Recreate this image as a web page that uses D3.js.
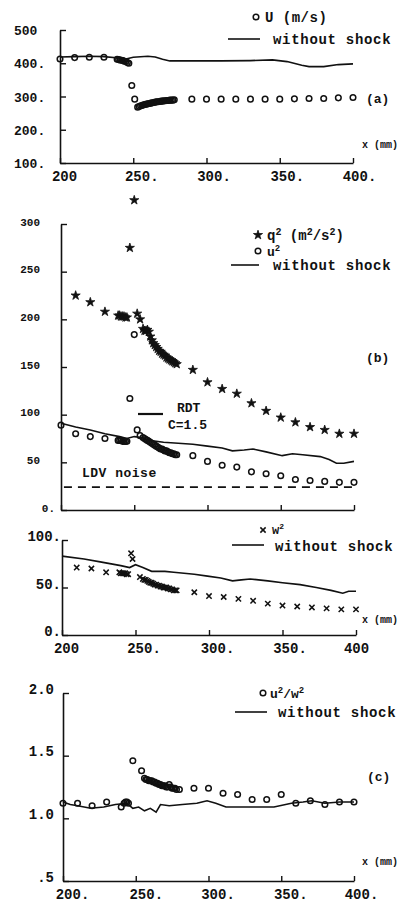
<!DOCTYPE html>
<html><head><meta charset="utf-8">
<script src="https://cdn.jsdelivr.net/npm/d3@7"></script>
<style>
html,body{margin:0;padding:0;background:#fff;}
svg{display:block;}
text{font-family:"Liberation Mono","DejaVu Sans Mono",monospace;font-weight:bold;fill:#111;}
</style></head><body>
<svg id="chart" width="399" height="902"></svg>
<script>
// ---------- DATA ----------
const xTicks = [200, 250, 300, 350, 400];

// panel (a): mean velocity U (m/s)
const aYTicks = [100, 200, 300, 400, 500];
const aYLabels = ["100.", "200.", "300.", "400.", "500"];
const aXLabels = ["200", "250.", "300.", "350.", "400."];
const uPoints = [[200,413],[210,417],[220,418],[230,418],[239,412],[240,411],[241,410],[242,409],[243,408],[244,406],[245,405],[246,402],[247,400],[249,333],[251,292],
 [253,268],[254,270],[255,272],[256,273],[257,275],[258,276],[259,277],[260,278],[261,279],[262,280],[263,281],[264,282],[265,283],[266,284],[267,284],[268,285],[269,286],[270,286],[271,287],[272,287],[273,288],[274,288],[275,289],[276,289],[277,289],[278,290],
 [290,292],[300,292],[310,292],[320,292],[330,292],[340,292],[350,292],[360,293],[370,294],[380,294],[390,296],[400,297]];
const uNoShock = [[200,419],[210,420],[220,421],[230,420],[240,416],[245,413],[250,418],[260,421],[265,419],[270,412],[275,407],[290,407],[310,407],[330,408],[345,410],[355,405],[365,394],[370,390],[380,390],[390,396],[400,398]];

// panel (b): q^2 and u^2 (m^2/s^2)
const bYTicks = [0, 50, 100, 150, 200, 250, 300];
const bYLabels = ["0.", "50", "100", "150", "200", "250", "300"];
const q2Points = [[210,225],[220,218],[230,208],[239,204],[240,204],[241,203],[242,203],[243,203],[244,202],[245,202],[247,275],[250,325],[252,206],[254,200],[256,190],[257,188],[258,188],[259,189],[260,187],[261,182],[262,178],[263,175],[264,173],[265,171],[266,169],[267,167],[268,166],[269,164],[270,163],[271,162],[272,160],[273,159],[274,158],[275,157],[276,156],[277,155],[278,154],[279,153],[290,147],[300,134],[310,127],[320,122],[330,112],[340,104],[350,97],[360,92],[370,87],[380,84],[390,80],[400,80]];
const u2Points = [[200,89],[210,80],[220,77],[230,75],[239,73],[240,73],[241,73],[242,72],[243,72],[244,72],[245,72],[247,117],[250,184],[252,84],[254,78],[256,76],[257,75],[258,74],[259,73],[260,72],[261,71],[262,70],[263,69],[264,68],[265,67],[266,66],[267,65],[268,64],[269,64],[270,63],[271,62],[272,62],[273,61],[274,60],[275,60],[276,59],[277,59],[278,58],[279,58],[290,57],[300,51],[310,47],[320,45],[330,40],[340,38],[350,36],[360,32],[370,31],[380,30],[390,29],[400,29]];
const u2NoShock = [[200,91],[210,87],[220,84],[230,80],[240,77],[245,75],[250,77],[255,76],[260,73],[270,71],[280,70],[290,69],[300,67],[310,65],[317,62],[325,63],[331,64],[340,61],[351,57],[358,59],[365,58],[377,56],[383,53],[388,49],[393,49],[400,51]];
const ldvNoise = [[202,24],[400,24]];

// panel w^2
const wYTicks = [0, 50, 100];
const wYLabels = ["0.", "50.", "100."];
const wXLabels = ["200", "250.", "300.", "350.", "400"];
const w2Points = [[210,71],[220,70],[230,66],[239,66],[240,65],[241,65],[242,65],[243,65],[244,64],[245,64],[247,86],[248,80],[253,61],[255,59],[256,58],[257,58],[258,57],[259,56],[260,55],[261,55],[262,54],[263,53],[264,53],[265,52],[266,52],[267,51],[268,51],[269,50],[270,50],[271,50],[272,49],[273,49],[274,48],[275,48],[276,47],[277,47],[278,47],[290,45],[300,41],[310,40],[320,38],[330,36],[340,33],[350,31],[360,30],[370,29],[380,28],[390,27],[400,27]];
const w2NoShock = [[200,83],[215,80],[226,77],[240,73],[246,71],[250,74],[255,71],[261,67],[270,67],[276,66],[290,64],[299,62],[308,60],[316,57],[322,58],[328,59],[340,57],[350,55],[362,53],[373,50],[383,47],[391,44],[395,46],[400,46]];

// panel (c): u^2/w^2
const cYTicks = [0.5, 1.0, 1.5, 2.0];
const cYLabels = [".5", "1.0", "1.5", "2.0"];
const cXLabels = ["200.", "250.", "300.", "350.", "400."];
const ratioPoints = [[200,1.12],[210,1.12],[220,1.10],[230,1.13],[240,1.09],[242,1.12],[243,1.13],[244,1.13],[245,1.12],[248,1.46],[254,1.38],[256,1.32],[257,1.31],[258,1.31],[259,1.30],[260,1.30],[261,1.30],[262,1.29],[263,1.29],[264,1.28],[265,1.28],[266,1.27],[267,1.27],[268,1.26],[269,1.26],[270,1.26],[271,1.25],[272,1.25],[273,1.27],[274,1.25],[275,1.24],[276,1.24],[277,1.24],[278,1.23],[280,1.23],[290,1.24],[300,1.24],[310,1.20],[320,1.19],[330,1.15],[340,1.15],[350,1.19],[360,1.12],[370,1.14],[380,1.11],[390,1.13],[400,1.13]];
const ratioNoShock = [[200,1.13],[205,1.11],[210,1.10],[219,1.08],[228,1.09],[236,1.11],[244,1.12],[248,1.08],[252,1.09],[256,1.06],[260,1.08],[264,1.05],[267,1.11],[273,1.10],[282,1.11],[292,1.12],[299,1.14],[305,1.12],[312,1.09],[322,1.09],[332,1.09],[345,1.09],[357,1.12],[365,1.13],[371,1.14],[380,1.12],[390,1.13],[400,1.13]];

// ---------- DRAWING ----------
const svg = d3.select("#chart");
const INK = "#111";

function makePanel(cfg) {
  const x = d3.scaleLinear().domain([200, 400]).range(cfg.xr);
  const y = d3.scaleLinear().domain(cfg.yd).range(cfg.yr);
  const g = svg.append("g");

  const gx = g.append("g").attr("transform", `translate(0,${cfg.yr[0]})`)
    .call(d3.axisBottom(x).tickValues(xTicks).tickSize(-5).tickSizeOuter(0)
      .tickFormat((d, i) => cfg.xLabels ? cfg.xLabels[i] : ""));
  gx.select(".domain").attr("stroke", INK).attr("stroke-width", 1.6);
  gx.selectAll(".tick line").attr("stroke", INK).attr("stroke-width", 1.4);
  gx.selectAll(".tick text")
    .attr("y", cfg.xLabelY - cfg.yr[0]).attr("dy", 0)
    .attr("dx", (d, i) => cfg.xLabelDx[i])
    .style("font-size", cfg.xFont + "px").attr("fill", INK);

  const gy = g.append("g").attr("transform", `translate(${cfg.xr[0]},0)`)
    .call(d3.axisLeft(y).tickValues(cfg.yTicks).tickSize(-6).tickSizeOuter(0)
      .tickFormat((d, i) => cfg.yLabels[i]));
  gy.select(".domain").attr("stroke", INK).attr("stroke-width", 1.6);
  gy.selectAll(".tick line").attr("stroke", INK).attr("stroke-width", 1.4);
  gy.selectAll(".tick text")
    .attr("text-anchor", cfg.yAnchor)
    .attr("x", (d, i) => cfg.yLabelX + (cfg.yLabelXAdj ? cfg.yLabelXAdj[i] : 0))
    .attr("dy", cfg.yDy)
    .style("font-size", cfg.yFont + "px").attr("fill", INK);

  return { x, y, g };
}

function drawLine(p, data, dash) {
  const line = d3.line().x(d => p.x(d[0])).y(d => p.y(d[1]));
  p.g.append("path").datum(data).attr("d", line)
    .attr("fill", "none").attr("stroke", INK).attr("stroke-width", 1.6)
    .attr("stroke-dasharray", dash || null);
}
function drawCircles(p, data) {
  p.g.append("g").selectAll("circle").data(data).join("circle")
    .attr("cx", d => p.x(d[0])).attr("cy", d => p.y(d[1])).attr("r", 2.8)
    .attr("fill", "none").attr("stroke", INK).attr("stroke-width", 1.5);
}
function drawStars(p, data) {
  p.g.append("g").selectAll("path").data(data).join("path")
    .attr("transform", d => `translate(${p.x(d[0])},${p.y(d[1])})`)
    .attr("d", d3.symbol(d3.symbolStar, 26)).attr("fill", INK)
    .attr("stroke", INK).attr("stroke-width", 0.8);
}
function drawCrosses(p, data) {
  p.g.append("g").selectAll("path").data(data).join("path")
    .attr("transform", d => `translate(${p.x(d[0])},${p.y(d[1])})`)
    .attr("d", d3.symbol(d3.symbolTimes, 20)).attr("fill", "none")
    .attr("stroke", INK).attr("stroke-width", 1.5);
}
function text(x, y, s, size, ls) {
  return svg.append("text").attr("x", x).attr("y", y)
    .style("font-size", size + "px").style("letter-spacing", (ls || 0) + "px").text(s);
}
function supText(x, y, parts, size) {
  const t = svg.append("text").attr("x", x).attr("y", y).style("font-size", size + "px");
  parts.forEach(pt => {
    if (pt.sup) t.append("tspan").attr("dy", -5).style("font-size", (size - 4) + "px").text(pt.t);
    else t.append("tspan").attr("dy", pt.after ? 5 : 0).text(pt.t);
  });
  return t;
}
function legendLine(x1, x2, yy) {
  svg.append("line").attr("x1", x1).attr("x2", x2).attr("y1", yy).attr("y2", yy)
    .attr("stroke", INK).attr("stroke-width", 1.6);
}

// ---- panel (a)
const pa = makePanel({
  xr: [60, 353], yd: [100, 500], yr: [163, 30],
  yTicks: aYTicks, yLabels: aYLabels, yAnchor: "start", yLabelX: -46, yDy: "0.35em", yFont: 13,
  xLabels: aXLabels, xLabelY: 181, xLabelDx: [4, 8, 7, 7, 6], xFont: 14
});
drawLine(pa, uNoShock);
drawCircles(pa, uPoints);
svg.append("circle").attr("cx", 256).attr("cy", 17).attr("r", 2.8).attr("fill", "none").attr("stroke", INK).attr("stroke-width", 1.5);
text(265, 22, "U (m/s)", 14, 0.5);
legendLine(228, 260, 39);
text(273, 44, "without shock", 14, 0.7);
text(366, 103, "(a)", 13);
text(362, 148, "x (mm)", 10);

// ---- panel (b)
const pb = makePanel({
  xr: [61, 354], yd: [0, 300], yr: [510, 224],
  yTicks: bYTicks, yLabels: bYLabels, yAnchor: "end", yLabelX: -21, yLabelXAdj: [15, 0, 0, 0, 0, 0, 0], yDy: "0.1em", yFont: 11,
  xLabels: null, xLabelY: 520, xLabelDx: [0, 0, 0, 0, 0], xFont: 12
});
drawLine(pb, ldvNoise, "8,6");
drawLine(pb, u2NoShock);
drawCircles(pb, u2Points);
drawStars(pb, q2Points);
svg.append("path").attr("transform", "translate(258,235)").attr("d", d3.symbol(d3.symbolStar, 26)).attr("fill", INK).attr("stroke", INK).attr("stroke-width", 0.8);
supText(267, 240, [{t: "q"}, {t: "2", sup: true}, {t: " (m", after: true}, {t: "2", sup: true}, {t: "/s", after: true}, {t: "2", sup: true}, {t: ")", after: true}], 14);
svg.append("circle").attr("cx", 258).attr("cy", 251).attr("r", 2.8).attr("fill", "none").attr("stroke", INK).attr("stroke-width", 1.5);
supText(267, 256, [{t: "u"}, {t: "2", sup: true}], 13);
legendLine(231, 259, 265);
text(273, 270, "without shock", 14, 0.7);
text(366, 362, "(b)", 13);
svg.append("line").attr("x1", 138).attr("x2", 163).attr("y1", 414).attr("y2", 414).attr("stroke", INK).attr("stroke-width", 2.2);
text(177, 412, "RDT", 13);
text(168, 429, "C=1.5", 13);
text(82, 477, "LDV noise", 13, 0.5);

// ---- panel w^2
const pw = makePanel({
  xr: [62, 356], yd: [0, 100], yr: [635, 540],
  yTicks: wYTicks, yLabels: wYLabels, yAnchor: "end", yLabelX: -1, yDy: "0.05em", yFont: 14,
  xLabels: wXLabels, xLabelY: 653, xLabelDx: [4, 8, 8, 7, 0], xFont: 14
});
drawLine(pw, w2NoShock);
drawCrosses(pw, w2Points);
svg.append("path").attr("transform", "translate(263,530)").attr("d", d3.symbol(d3.symbolTimes, 20)).attr("fill", "none").attr("stroke", INK).attr("stroke-width", 1.5);
supText(272, 534, [{t: "w"}, {t: "2", sup: true}], 12);
legendLine(232, 264, 545);
text(275, 551, "without shock", 14, 0.7);
text(362, 623, "x (mm)", 10);

// ---- panel (c)
const pc = makePanel({
  xr: [63, 354], yd: [0.5, 2.0], yr: [881, 693],
  yTicks: cYTicks, yLabels: cYLabels, yAnchor: "end", yLabelX: -9, yDy: "0.0em", yFont: 14,
  xLabels: cXLabels, xLabelY: 899, xLabelDx: [9, 10, 9, 9, 7], xFont: 14
});
drawLine(pc, ratioNoShock);
drawCircles(pc, ratioPoints);
svg.append("circle").attr("cx", 263).attr("cy", 693).attr("r", 2.8).attr("fill", "none").attr("stroke", INK).attr("stroke-width", 1.5);
supText(270, 698, [{t: "u"}, {t: "2", sup: true}, {t: "/w", after: true}, {t: "2", sup: true}], 13);
legendLine(235, 267, 712);
text(278, 717, "without shock", 14, 0.7);
text(367, 781, "(c)", 13);
text(362, 865, "x (mm)", 10);
</script>
</body></html>
